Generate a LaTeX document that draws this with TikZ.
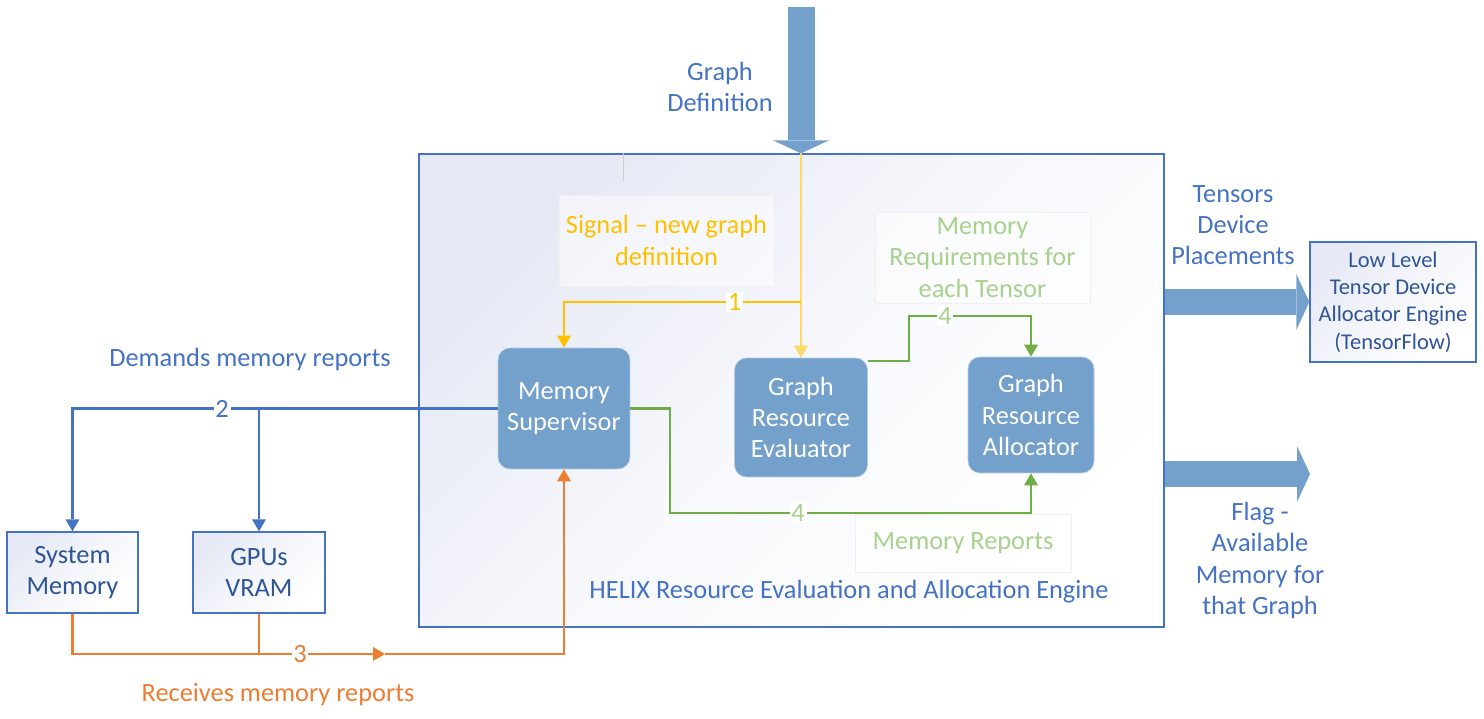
\documentclass[tikz,border=0pt]{standalone}
\usepackage{fontspec}
\setmainfont{Carlito}
\usetikzlibrary{arrows.meta}
\definecolor{helixblue}{HTML}{4472C4}
\definecolor{boxblue}{HTML}{74A0CC}
\definecolor{darkblue}{HTML}{2F5597}
\definecolor{sigyellow}{HTML}{FFC000}
\definecolor{paleyellow}{HTML}{FFD966}
\definecolor{reqgreen}{HTML}{70AD47}
\definecolor{palegreen}{HTML}{A9D18E}
\definecolor{reporange}{HTML}{ED7D31}
\definecolor{lavender}{HTML}{E6E9F5}
\tikzset{
  txt/.style={font=\fontsize{15}{17.8}\selectfont, align=center, inner sep=0pt},
  unit/.style={txt, draw=boxblue!55!white, fill=boxblue, text=white, rounded corners=0.24cm},
  hw/.style={txt, draw=helixblue, line width=0.8pt, top color=lavender, bottom color=white, middle color=white!60!lavender, shading angle=45, text=darkblue},
  note/.style={txt, draw=gray!12, fill=white, fill opacity=0.5, text opacity=1},
  num/.style={font=\fontsize{15}{17.8}\selectfont, fill=white, inner sep=1pt},
  arrow/.style={-{Triangle[width=0.28cm,length=0.24cm,line width=0pt]}, line width=1.25pt},
  fat/.style={draw=boxblue, line width=0.54cm, -{Triangle[width=1.12cm,length=0.26cm,line width=0pt]}}
}

\begin{document}
\begin{tikzpicture}[x=0.02cm, y=-0.02cm]
  \useasboundingbox (0,0) rectangle (1484,719);
  \node[draw=helixblue, line width=0.8pt, top color=lavender, bottom color=white, middle color=white!70!lavender, shading angle=45, minimum width=14.9cm, minimum height=9.46cm] (engine) at (791.5,390.5) {};
  \node[txt, text=helixblue] (engname) at (849,592) {HELIX Resource Evaluation and Allocation Engine};
  \coordinate (tickx) at (623,0);
  \draw[gray!40] (engine.north -| tickx) -- ++(0,28);

  \node[note, text=sigyellow, minimum width=4.3cm, minimum height=1.82cm] (signal) at (666.5,240.5) {Signal – new graph\\definition};
  \node[note, text=palegreen, minimum width=4.3cm, minimum height=1.82cm] (req) at (982.5,257.5) {Memory\\Requirements for\\each Tensor};
  \node[note, text=palegreen, minimum width=4.32cm, minimum height=1.16cm] (memrep) at (963,543) {Memory Reports};

  \node[unit, minimum width=2.64cm, minimum height=2.42cm] (sup) at (564,408.5) {Memory\\Supervisor};
  \node[unit, minimum width=2.66cm, minimum height=2.38cm] (eval) at (801,417.5) {Graph\\Resource\\Evaluator};
  \node[unit, minimum width=2.52cm, minimum height=2.32cm] (alloc) at (1031,415) {Graph\\Resource\\Allocator};

  \node[hw, minimum width=2.62cm, minimum height=1.62cm] (sysmem) at (72.5,572.5) {System\\Memory};
  \node[hw, minimum width=2.64cm, minimum height=1.62cm] (gpu) at (259,572.5) {GPUs\\VRAM};
  \node[hw, font=\fontsize{12.8}{15.6}\selectfont, minimum width=3.32cm, minimum height=2.4cm] (lowlvl) at (1393,302) {Low Level\\Tensor Device\\Allocator Engine\\(TensorFlow)};

  \node[txt, text=helixblue] (gdef) at (720,87) {Graph\\Definition};
  \node[txt, text=helixblue] (demands) at (250,359) {Demands memory reports};
  \node[txt, text=reporange] (receives) at (278,695) {Receives memory reports};
  \node[txt, text=helixblue] (tensors) at (1233,225) {Tensors\\Device\\Placements};
  \node[txt, text=helixblue] (flag) at (1260,560.5) {Flag -\\Available\\Memory for\\that Graph};

  \coordinate (gdin) at (801,7);
  \draw[fat] (gdin) -- (gdin |- engine.north);
  \coordinate (split) at (801,302);
  \draw[arrow, paleyellow] (gdin |- engine.north) -- (eval.north);
  \draw[arrow, sigyellow] (split) -| node[num, text=sigyellow, pos=0.14] {1} (sup.north);

  \draw[arrow, helixblue] (sup.west) -| node[num, text=helixblue, pos=0.324] {2} (sysmem.north);
  \draw[arrow, helixblue] (sup.west -| gpu.north) -- (gpu.north);

  \coordinate (repmid) at (385,654);
  \draw[arrow, reporange] (sysmem.south) |- node[num, text=reporange, pos=0.864] {3} (repmid);
  \draw[arrow, reporange] (repmid) -| (sup.south);
  \draw[reporange, line width=1.25pt] (gpu.south) -- (gpu.south |- repmid);

  \coordinate (reqknee) at (909,316);
  \draw[arrow, reqgreen] ([yshift=-0.06cm]eval.north east) -| (reqknee) -- node[num, text=palegreen, pos=0.295] {4} (reqknee -| alloc.north) -- (alloc.north);
  \coordinate (repknee) at (670,513);
  \draw[arrow, reqgreen] (sup.east) -| (repknee) -- node[num, text=palegreen, pos=0.355] {4} (repknee -| alloc.south) -- (alloc.south);

  \draw[fat] (engine.east |- lowlvl.west) -- (lowlvl.west);
  \coordinate (flagtip) at (1310,474);
  \draw[fat] (engine.east |- flagtip) -- (flagtip);
\end{tikzpicture}
\end{document}
